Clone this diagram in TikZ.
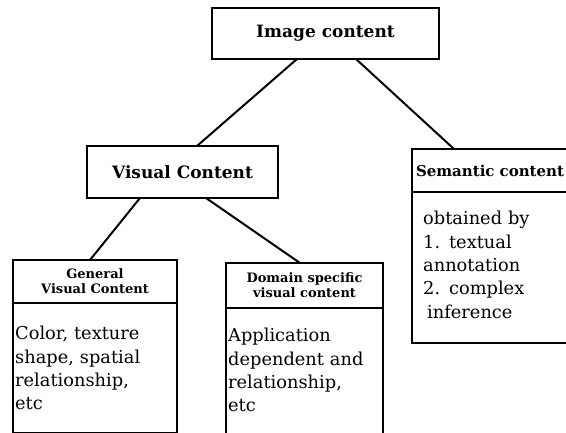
\documentclass[tikz,border=0pt]{standalone}
\usepackage{fontspec}
\setmainfont{DejaVu Serif}
\usetikzlibrary{positioning}

\begin{document}
\begin{tikzpicture}[x=1pt, y=-1pt,
    box/.style={rectangle, draw, line width=1.2pt, inner sep=0pt, outer sep=0pt},
    title/.style={font=\bfseries\fontsize{17}{20}\selectfont},
    head/.style={font=\bfseries\fontsize{13}{15}\selectfont, align=center},
    body/.style={font=\fontsize{17.8}{23.3}\selectfont, text width=150pt, align=left, anchor=base west, inner sep=0pt},
    link/.style={line width=2pt},
]
    \useasboundingbox (0,0) rectangle (566,433);
    \clip (0,0) rectangle (566,433);

    % Top levels
    \node[box, title, minimum width=227pt, minimum height=51pt] (img) at (325.5,33.5) {Image content};
    \node[box, title, minimum width=191pt, minimum height=52pt] (vis) at (182.5,172) {Visual Content};

    % Semantic content
    \node[box, font=\bfseries\fontsize{15}{18}\selectfont, text width=162pt, align=left, inner xsep=4pt,
        minimum height=43pt, anchor=north west] (semhead) at (412,149) {Semantic content};
    \node[box, minimum width=170pt, minimum height=151pt, below=0pt of semhead] (sembody) {};
    \node[body] (semtxt) at ([xshift=11pt, yshift=-33pt]sembody.north west)
        {obtained by\\1. textual\\annotation\\2. complex\\\hspace{4pt}inference};

    % General visual content
    \node[box, head, minimum width=164pt, minimum height=43pt, anchor=north west] (genhead) at (13,260) {General\\Visual Content};
    \node[box, minimum width=164pt, minimum height=130pt, below=0pt of genhead] (genbody) {};
    \node[body] (gentxt) at ([xshift=2pt, yshift=-37pt]genbody.north west)
        {Color, texture\\shape, spatial\\relationship,\\etc};

    % Domain specific visual content
    \node[box, head, minimum width=157pt, minimum height=45pt, anchor=north west] (domhead) at (226,263) {Domain specific\\visual content};
    \node[box, minimum width=157pt, minimum height=140pt, below=0pt of domhead] (dombody) {};
    \node[body] (domtxt) at ([xshift=2pt, yshift=-34pt]dombody.north west)
        {Application\\dependent and\\relationship,\\etc};

    % Links
    \draw[link] ([xshift=-28.5pt]img.south) -- ([xshift=14.5pt]vis.north);
    \draw[link] ([xshift=30.5pt]img.south) -- ([xshift=-43pt]semhead.north);
    \draw[link] ([xshift=-42.5pt]vis.south) -- ([xshift=-5pt]genhead.north);
    \draw[link] ([xshift=23.5pt]vis.south) -- ([xshift=-4.5pt]domhead.north);
\end{tikzpicture}
\end{document}
